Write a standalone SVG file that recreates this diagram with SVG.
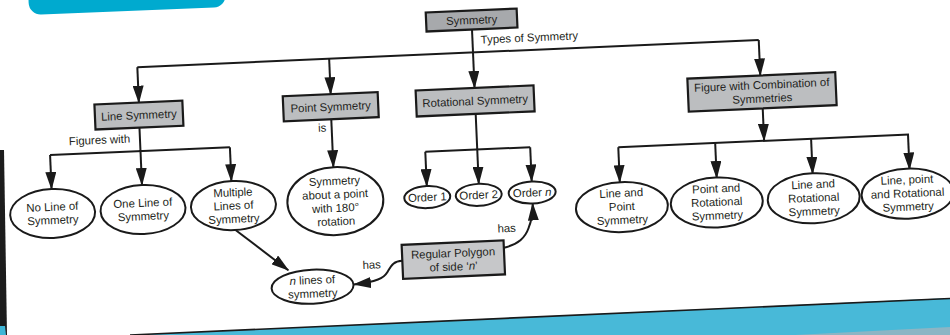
<svg xmlns="http://www.w3.org/2000/svg" width="950" height="335" viewBox="0 0 950 335">
<defs>
<style>
.box{fill:#bcbec0;stroke:#1a1a1a;stroke-width:2.2}
.top{fill:#a7a9ac}
.ell{fill:#fff;stroke:#1a1a1a;stroke-width:2}
.ln{fill:none;stroke:#1a1a1a;stroke-width:2}
.arr{marker-end:url(#ah)}
text{font-family:"Liberation Sans",Arial,sans-serif;font-size:11.4px;fill:#231f20;text-anchor:middle}
.lab{text-anchor:middle}
</style>
<marker id="ah" viewBox="0 0 18 11" refX="17" refY="5.5" markerWidth="18" markerHeight="11" markerUnits="userSpaceOnUse" orient="auto">
<path d="M0,0 L18,5.5 L0,11 z" fill="#1a1a1a"/>
</marker>
</defs>
<rect x="0" y="0" width="950" height="335" fill="#fff"/>
<!-- page decorations -->
<rect x="29" y="-40" width="197" height="51" rx="12" fill="#00aacf" transform="rotate(-2.3 128 10)"/>
<polygon points="0,150 4,150 7,335 0,335" fill="#1c1c1c"/>
<polygon points="0,326 5,326 6,335 0,335" fill="#3fb6d6"/>
<polygon points="130,335 950,298 950,335" fill="#48b9d8"/>
<polygon points="795,335 950,327 950,335" fill="#8cb5c4"/>
<line x1="130" y1="335" x2="950" y2="298.5" stroke="#1a1a1a" stroke-width="1.6"/>

<g transform="rotate(-2.5 475 167)">
<g id="connectors">
<path class="ln" d="M142,52.5 H764"/>
<path class="ln arr" d="M478,29.5 V88"/>
<path class="ln arr" d="M142,52.5 V88"/>
<path class="ln arr" d="M334,52.5 V88"/>
<path class="ln arr" d="M764,52.5 V88"/>
<text x="535" y="44">Types of Symmetry</text>

<path class="ln" d="M141.5,113 V136.5 M51,136.5 H231"/>
<path class="ln arr" d="M51,136.5 V170.5"/>
<path class="ln arr" d="M141.5,136.5 V170.5"/>
<path class="ln arr" d="M231,136.5 V170.5"/>
<text x="101" y="127.5">Figures with</text>

<path class="ln arr" d="M333.5,113 V161"/>
<text x="324" y="125">is</text>

<path class="ln" d="M478,114 V149.6 M426,149.6 H531"/>
<path class="ln arr" d="M426,149.6 V184"/>
<path class="ln arr" d="M478,149.6 V184"/>
<path class="ln arr" d="M531,149.6 V184"/>

<path class="ln arr" d="M765,121 V153.5"/>
<path class="ln" d="M619,153.5 H910"/>
<path class="ln arr" d="M619,153.5 V188.5"/>
<path class="ln arr" d="M716,153.5 V188.5"/>
<path class="ln arr" d="M812,153.5 V188.5"/>
<path class="ln arr" d="M909,153.5 V188.5"/>

<path class="ln arr" d="M233,219.5 L284,262"/>
<path class="ln arr" d="M398.3,257.5 C389,257.5 387,262 383,268 C379,274 372,277.5 349,279"/>
<text x="367.5" y="264">has</text>
<path class="ln arr" d="M500.3,249 C515,246 522,240 526,230 C529.5,222 531,215 531,206"/>
<text x="504" y="233.5">has</text>
</g>

<g id="symmetry">
<rect class="box top" x="432.5" y="10.5" width="91" height="19"/>
<text x="478" y="24">Symmetry</text>
</g>
<g id="line-symmetry">
<rect class="box" x="97.5" y="88" width="88" height="25"/>
<text x="141.5" y="104.5">Line Symmetry</text>
</g>
<g id="point-symmetry">
<rect class="box" x="286" y="88" width="95" height="25"/>
<text x="333.5" y="104.5">Point Symmetry</text>
</g>
<g id="rotational-symmetry">
<rect class="box" x="419" y="88" width="118" height="26"/>
<text x="478" y="105">Rotational Symmetry</text>
</g>
<g id="combination">
<rect class="box" x="691" y="88" width="148" height="33"/>
<text x="765" y="101.5">Figure with Combination of</text>
<text x="765" y="115">Symmetries</text>
</g>

<g id="no-line">
<ellipse class="ell" cx="51" cy="195" rx="42.5" ry="24.5"/>
<text x="51" y="192.3">No Line of</text>
<text x="51" y="205.6">Symmetry</text>
</g>
<g id="one-line">
<ellipse class="ell" cx="141.5" cy="195" rx="42.5" ry="24.5"/>
<text x="141.5" y="192.3">One Line of</text>
<text x="141.5" y="205.6">Symmetry</text>
</g>
<g id="multiple-lines">
<ellipse class="ell" cx="232" cy="195" rx="42.5" ry="24.5"/>
<text x="232" y="185.7">Multiple</text>
<text x="232" y="199">Lines of</text>
<text x="232" y="212.3">Symmetry</text>
</g>
<g id="point-def">
<ellipse class="ell" cx="334" cy="195" rx="48" ry="34"/>
<text x="334" y="178.8">Symmetry</text>
<text x="334" y="192.3">about a point</text>
<text x="334" y="205.8">with 180°</text>
<text x="334" y="219.3">rotation</text>
</g>
<g id="order-1">
<ellipse class="ell" cx="426" cy="195" rx="23" ry="11"/>
<text x="426" y="199">Order 1</text>
</g>
<g id="order-2">
<ellipse class="ell" cx="477.5" cy="195" rx="23" ry="11"/>
<text x="477.5" y="199">Order 2</text>
</g>
<g id="order-n">
<ellipse class="ell" cx="531" cy="195" rx="23.5" ry="11"/>
<text x="531" y="199">Order <tspan font-style="italic">n</tspan></text>
</g>
<g id="line-point">
<ellipse class="ell" cx="620" cy="213.5" rx="46" ry="25"/>
<text x="620" y="203.3">Line and</text>
<text x="620" y="216.8">Point</text>
<text x="620" y="230.3">Symmetry</text>
</g>
<g id="point-rot">
<ellipse class="ell" cx="715" cy="213" rx="46" ry="25"/>
<text x="715" y="203">Point and</text>
<text x="715" y="216.5">Rotational</text>
<text x="715" y="230">Symmetry</text>
</g>
<g id="line-rot">
<ellipse class="ell" cx="812" cy="213" rx="46" ry="25"/>
<text x="812" y="203">Line and</text>
<text x="812" y="216.5">Rotational</text>
<text x="812" y="230">Symmetry</text>
</g>
<g id="line-point-rot">
<ellipse class="ell" cx="906" cy="212.5" rx="46" ry="25"/>
<text x="906" y="202.5">Line, point</text>
<text x="906" y="216">and Rotational</text>
<text x="906" y="229.5">Symmetry</text>
</g>
<g id="n-lines">
<ellipse class="ell" cx="307.5" cy="279.5" rx="41" ry="17"/>
<text x="307.5" y="276.8"><tspan font-style="italic">n</tspan> lines of</text>
<text x="307.5" y="290.3">symmetry</text>
</g>
<g id="regular-polygon">
<rect class="box" x="398.3" y="241.6" width="102" height="34" style="fill:#c6c7c9"/>
<text x="449.3" y="256">Regular Polygon</text>
<text x="449.3" y="269.5">of side ‘<tspan font-style="italic">n</tspan>’</text>
</g>
</g>
</svg>
